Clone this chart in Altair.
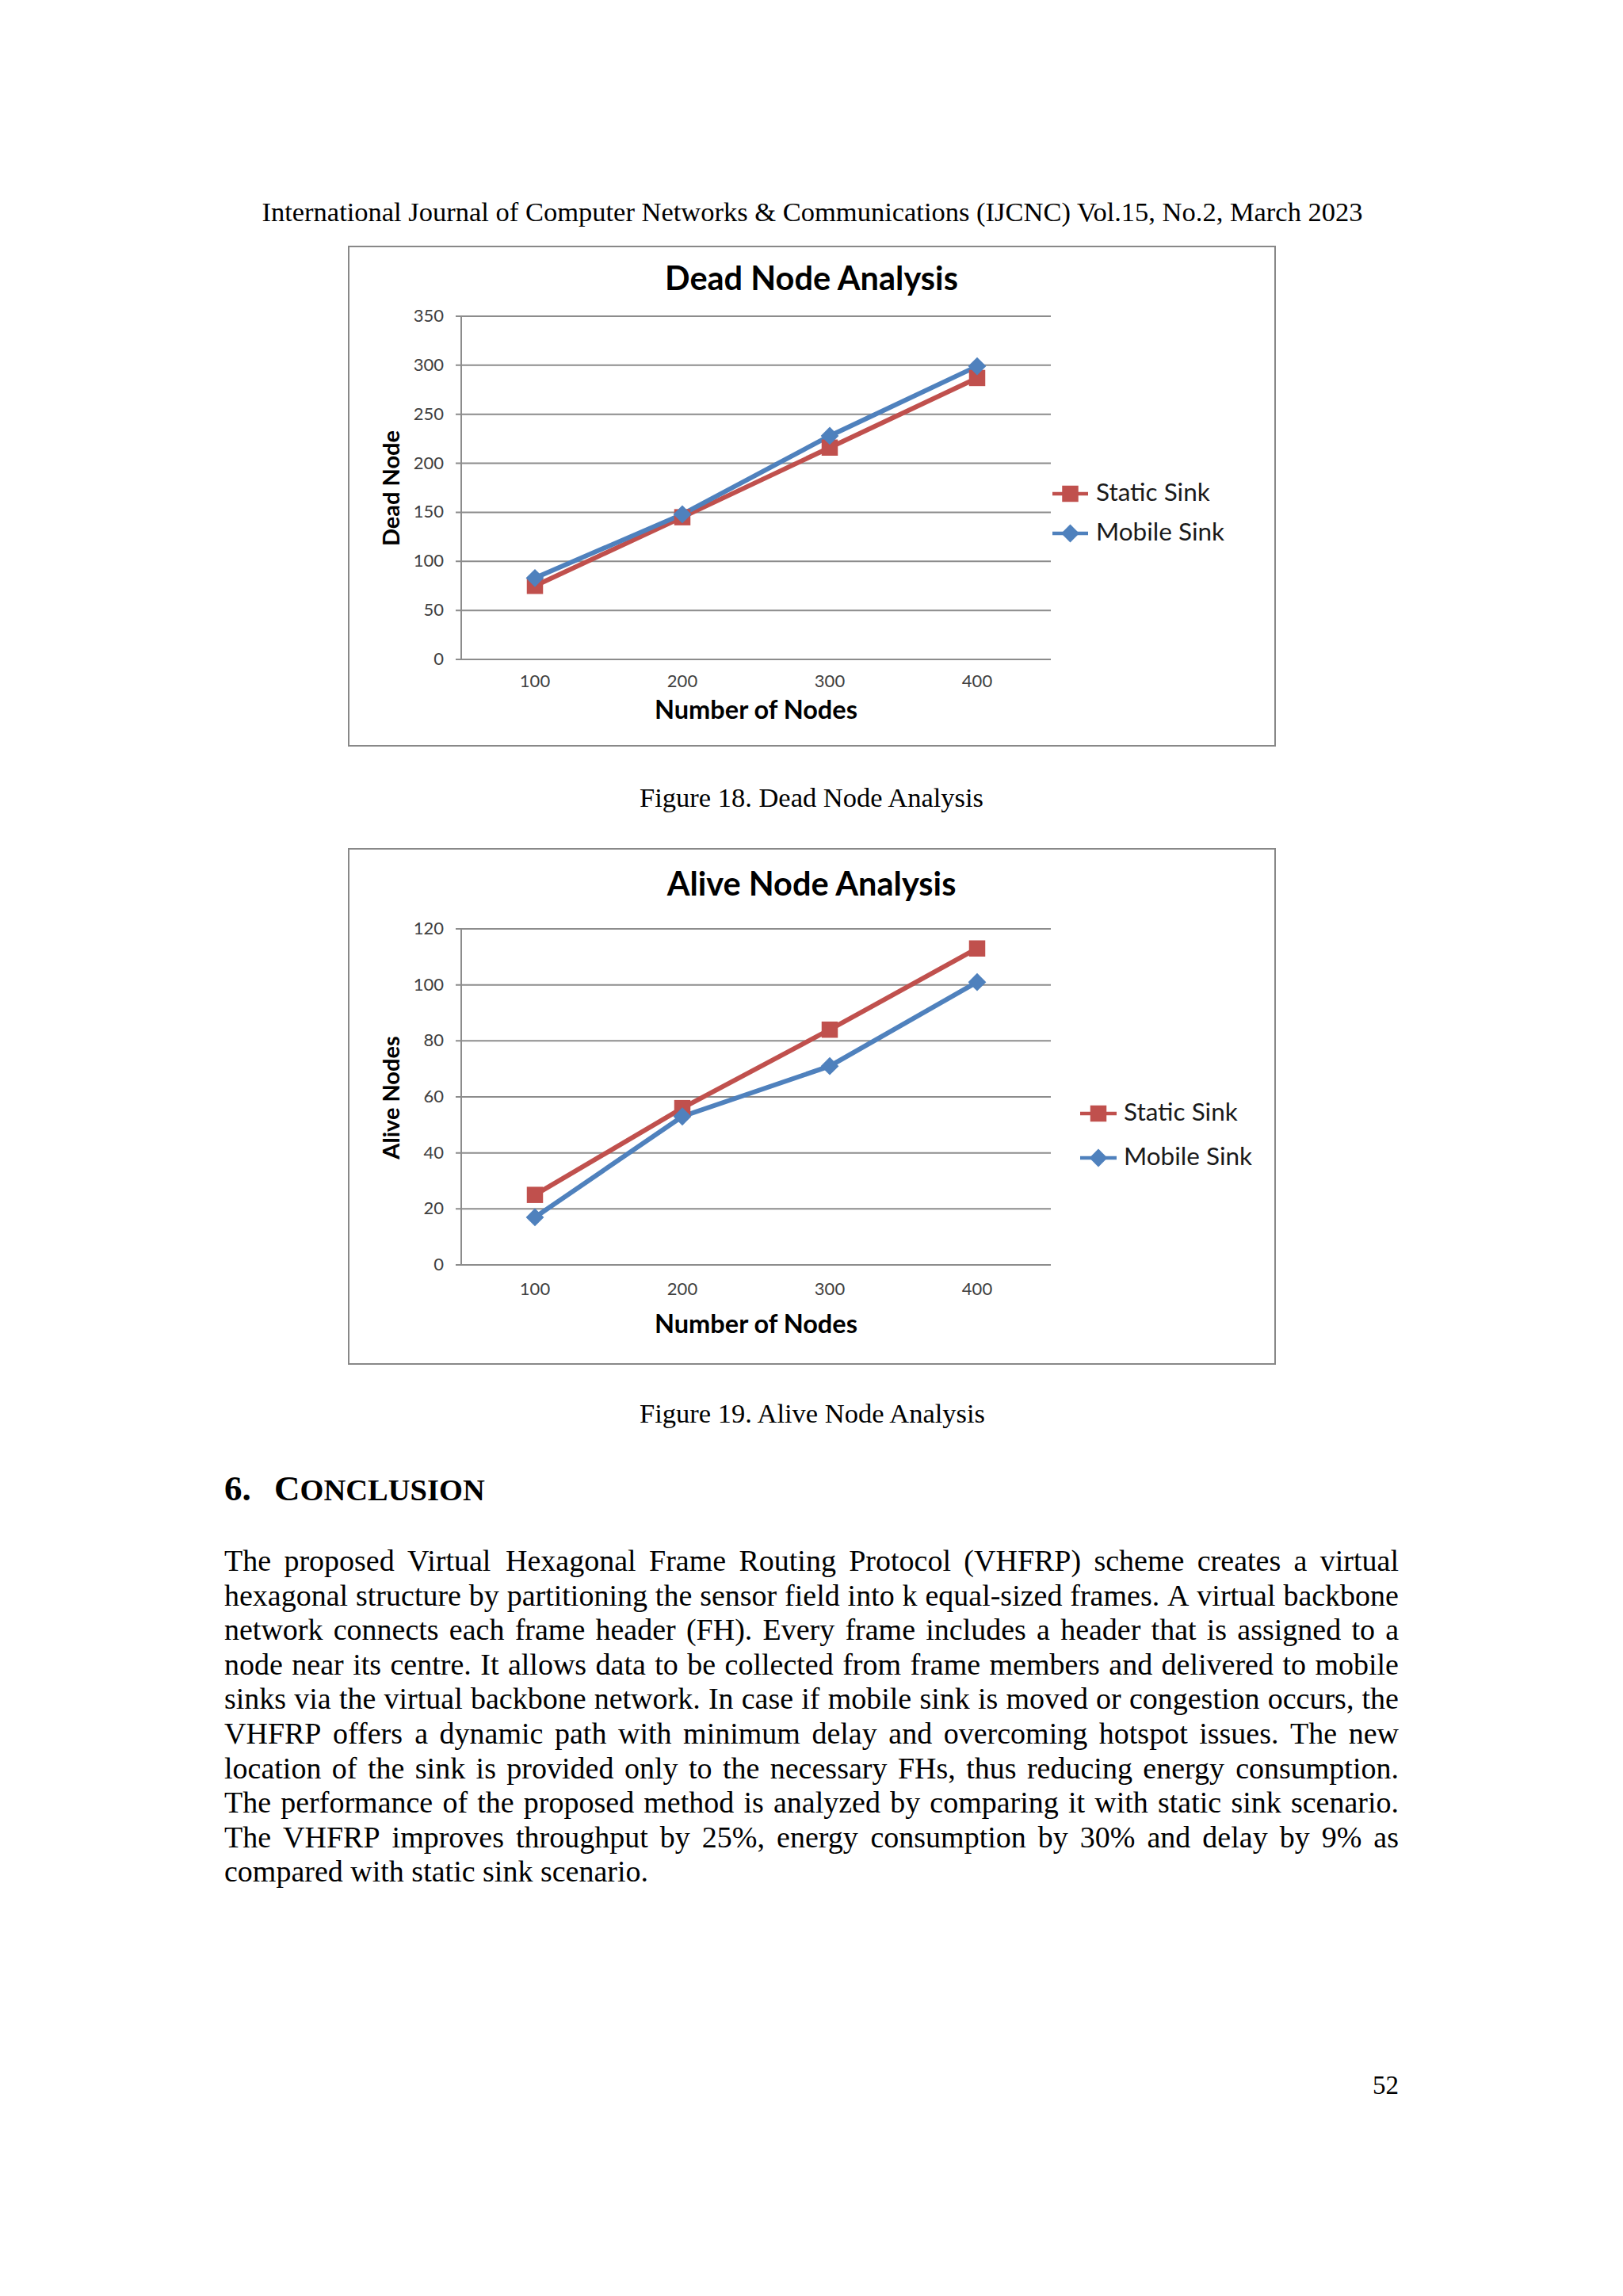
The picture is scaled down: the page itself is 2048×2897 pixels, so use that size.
import altair as alt
import pandas as pd

# ---------------- data ----------------
nodes = [100, 200, 300, 400]
series = ["Static Sink", "Mobile Sink"]
colors = ["#C0504D", "#4F81BD"]

dead_static = [75, 145, 216, 287]
dead_mobile = [83, 148, 228, 299]
dead_ticks = [0, 50, 100, 150, 200, 250, 300, 350]

alive_static = [25, 56, 84, 113]
alive_mobile = [17, 53, 71, 101]
alive_ticks = [0, 20, 40, 60, 80, 100, 120]

header = "International Journal of Computer Networks & Communications (IJCNC) Vol.15, No.2, March 2023"
caption1 = "Figure 18. Dead Node Analysis"
caption2 = "Figure 19. Alive Node Analysis"
page_no = "52"
para_lines = [
    "The proposed Virtual Hexagonal Frame Routing Protocol (VHFRP) scheme creates a virtual",
    "hexagonal structure by partitioning the sensor field into k equal-sized frames. A virtual backbone",
    "network connects each frame header (FH). Every frame includes a header that is assigned to a",
    "node near its centre. It allows data to be collected from frame members and delivered to mobile",
    "sinks via the virtual backbone network. In case if mobile sink is moved or congestion occurs, the",
    "VHFRP offers a dynamic path with minimum delay and overcoming hotspot issues. The new",
    "location of the sink is provided only to the necessary FHs, thus reducing energy consumption.",
    "The performance of the proposed method is analyzed by comparing it with static sink scenario.",
    "The VHFRP improves throughput by 25%, energy consumption by 30% and delay by 9% as",
    "compared with static sink scenario.",
]

# ---------------- layout helpers ----------------
OFF = 8  # page margin


def px(v):
    return v - OFF


SERIF = "Liberation Serif"
SANS = "Lato"
GRID = "#8C8C8C"

# Times metrics (per 1000 em) for justification
TW = dict(zip("abcdefghijklmnopqrstuvwxyz",
              [444, 500, 444, 500, 444, 333, 500, 500, 278, 278, 500, 278, 778,
               500, 500, 500, 500, 333, 389, 278, 500, 500, 722, 500, 500, 444]))
TW.update(dict(zip("ABCDEFGHIJKLMNOPQRSTUVWXYZ",
                   [722, 667, 667, 722, 611, 556, 722, 722, 333, 389, 722, 611, 889,
                    722, 722, 556, 722, 667, 556, 611, 722, 722, 944, 722, 722, 611])))
TW.update({d: 500 for d in "0123456789"})
TW.update({" ": 250, ".": 250, ",": 250, "-": 333, "(": 333, ")": 333, "%": 833, "&": 778})


def word_w(w, size):
    return sum(TW.get(c, 500) for c in w) * size / 1000.0


def page_text(rows, **kw):
    df = pd.DataFrame(rows)
    return alt.Chart(df).mark_text(**kw).encode(
        x=alt.X("x:Q", scale=None, axis=None),
        y=alt.Y("y:Q", scale=None, axis=None),
        text="text:N",
    )


cscale = alt.Scale(domain=series, range=colors)

# ---------------- page text ----------------
layers = []
layers.append(page_text([dict(text=header, x=px(1025), y=px(279))],
                        font=SERIF, fontSize=34.5, align="center", baseline="alphabetic", color="black"))
layers.append(page_text([dict(text=caption1, x=px(1024), y=px(1018)),
                         dict(text=caption2, x=px(1025), y=px(1795))],
                        font=SERIF, fontSize=34.5, align="center", baseline="alphabetic", color="black"))
layers.append(page_text([dict(text=page_no, x=px(1765), y=px(2642))],
                        font=SERIF, fontSize=33, align="right", baseline="alphabetic", color="black"))
layers.append(page_text([dict(text="6.", x=px(283), y=px(1893)), dict(text="C", x=px(346), y=px(1893))],
                        font=SERIF, fontSize=45, fontWeight="bold", align="left", baseline="alphabetic", color="black"))
layers.append(page_text([dict(text="ONCLUSION", x=px(378.5), y=px(1893))],
                        font=SERIF, fontSize=38.5, fontWeight="bold", align="left", baseline="alphabetic", color="black"))

PARA_X0, PARA_X1 = 283, 1765
PARA_Y0, PARA_DY = 1982, 43.6
PARA_SIZE = 38
prow = []
for i, line in enumerate(para_lines):
    y = PARA_Y0 + i * PARA_DY
    if i == len(para_lines) - 1:
        prow.append(dict(text=line, x=px(PARA_X0), y=px(y)))
        continue
    words = line.split(" ")
    ws = [word_w(w, PARA_SIZE) for w in words]
    gap = (PARA_X1 - PARA_X0 - sum(ws)) / (len(words) - 1)
    xx = PARA_X0
    for w, wd in zip(words, ws):
        prow.append(dict(text=w, x=px(xx), y=px(y)))
        xx += wd + gap
layers.append(page_text(prow, font=SERIF, fontSize=PARA_SIZE, align="left", baseline="alphabetic", color="black"))


# ---------------- charts ----------------
def analysis_chart(title, ytitle, static, mobile, ticks, box, plot_y, title_y, xlab_y, xtitle_y,
                   ytitle_xy, leg_x, leg_ys):
    PX0, PX1 = 582, 1326
    top, bottom = plot_y
    xs = alt.Scale(type="point", domain=nodes, range=[px(PX0), px(PX1)], padding=0.5)
    ys = alt.Scale(type="linear", domain=[ticks[0], ticks[-1]], range=[px(bottom), px(top)],
                   nice=False, zero=False)
    one = pd.DataFrame({"a": [0]})
    df = pd.DataFrame({"nodes": nodes * 2, "value": static + mobile,
                       "series": [series[0]] * len(nodes) + [series[1]] * len(nodes)})
    tdf = pd.DataFrame({"tick": ticks})
    ndf = pd.DataFrame({"nodes": nodes})

    frame = alt.Chart(one).mark_rect(fill="white", stroke="#888888", strokeWidth=2).encode(
        x=alt.value(px(box[0])), x2=alt.value(px(box[2])),
        y=alt.value(px(box[1])), y2=alt.value(px(box[3])))
    grid = alt.Chart(tdf).mark_rule(color=GRID, strokeWidth=2).encode(
        y=alt.Y("tick:Q", scale=ys, axis=None),
        x=alt.value(px(PX0 - 7)), x2=alt.value(px(PX1)))
    yaxis = alt.Chart(one).mark_rule(color=GRID, strokeWidth=2).encode(
        x=alt.value(px(PX0)), y=alt.value(px(top)), y2=alt.value(px(bottom)))
    ylabels = alt.Chart(tdf).mark_text(font=SANS, fontSize=22, align="right", baseline="middle",
                                       color="#404040").encode(
        y=alt.Y("tick:Q", scale=ys, axis=None), x=alt.value(px(560)), text="tick:Q")
    xlabels = alt.Chart(ndf).mark_text(font=SANS, fontSize=22, align="center", baseline="middle",
                                       color="#404040").encode(
        x=alt.X("nodes:O", scale=xs, axis=None), y=alt.value(px(xlab_y)), text="nodes:O")
    ttl = alt.Chart(one).mark_text(font=SANS, fontSize=41.5, fontWeight="bold", align="center",
                                   baseline="middle", color="black", text=title).encode(
        x=alt.value(px(1024)), y=alt.value(px(title_y)))
    xt = alt.Chart(one).mark_text(font=SANS, fontSize=32.5, fontWeight="bold", align="center",
                                  baseline="middle", color="black", text="Number of Nodes").encode(
        x=alt.value(px(954)), y=alt.value(px(xtitle_y)))
    yt = alt.Chart(one).mark_text(font=SANS, fontSize=29, fontWeight="bold", align="center",
                                  baseline="middle", angle=270, color="black", text=ytitle).encode(
        x=alt.value(px(ytitle_xy[0])), y=alt.value(px(ytitle_xy[1])))
    lines = alt.Chart(df).mark_line(strokeWidth=6).encode(
        x=alt.X("nodes:O", scale=xs, axis=None),
        y=alt.Y("value:Q", scale=ys, axis=None),
        color=alt.Color("series:N", scale=cscale, legend=None),
        order=alt.Order("nodes:Q"))
    pts = alt.Chart(df).mark_point(filled=True, opacity=1).encode(
        x=alt.X("nodes:O", scale=xs, axis=None),
        y=alt.Y("value:Q", scale=ys, axis=None),
        color=alt.Color("series:N", scale=cscale, legend=None),
        shape=alt.Shape("series:N", scale=alt.Scale(domain=series, range=["square", "diamond"]), legend=None),
        size=alt.Size("series:O", scale=alt.Scale(domain=series, range=[420, 520]), legend=None))

    ldf = pd.DataFrame({"series": series, "ly": [px(v) for v in leg_ys]})
    lx0, lx1, ltx = leg_x
    lrule = alt.Chart(ldf).mark_rule(strokeWidth=4.5).encode(
        x=alt.value(px(lx0)), x2=alt.value(px(lx1)),
        y=alt.Y("ly:Q", scale=None, axis=None),
        color=alt.Color("series:N", scale=cscale, legend=None))
    lpts = alt.Chart(ldf).mark_point(filled=True, opacity=1).encode(
        x=alt.value(px((lx0 + lx1) / 2)),
        y=alt.Y("ly:Q", scale=None, axis=None),
        color=alt.Color("series:N", scale=cscale, legend=None),
        shape=alt.Shape("series:N", scale=alt.Scale(domain=series, range=["square", "diamond"]), legend=None),
        size=alt.Size("series:O", scale=alt.Scale(domain=series, range=[330, 300]), legend=None))
    ltext = alt.Chart(ldf).mark_text(font=SANS, fontSize=31.5, align="left", baseline="middle",
                                     color="#1a1a1a").encode(
        x=alt.value(px(ltx)), y=alt.Y("ly:Q", scale=None, axis=None), text="series:N")

    return alt.layer(frame, grid, yaxis, ylabels, xlabels, ttl, xt, yt, lines, pts, lrule, lpts, ltext)


chart1 = analysis_chart("Dead Node Analysis", "Dead Node", dead_static, dead_mobile, dead_ticks,
                        box=(440, 311, 1609, 941), plot_y=(399, 832), title_y=354, xlab_y=860,
                        xtitle_y=897, ytitle_xy=(495, 616), leg_x=(1328, 1373, 1383), leg_ys=(623, 673))
chart2 = analysis_chart("Alive Node Analysis", "Alive Nodes", alive_static, alive_mobile, alive_ticks,
                        box=(440, 1071, 1609, 1721), plot_y=(1172, 1596), title_y=1118, xlab_y=1627,
                        xtitle_y=1672, ytitle_xy=(495, 1385), leg_x=(1363, 1409, 1418), leg_ys=(1405, 1461))

chart = alt.layer(chart1, chart2, *layers).resolve_scale(
    x="independent", y="independent"
).properties(
    width=2030, height=2860, padding=0, background="white"
).configure_view(stroke=None)

chart.save("out.html", embed_options={"renderer": "svg", "actions": False})
